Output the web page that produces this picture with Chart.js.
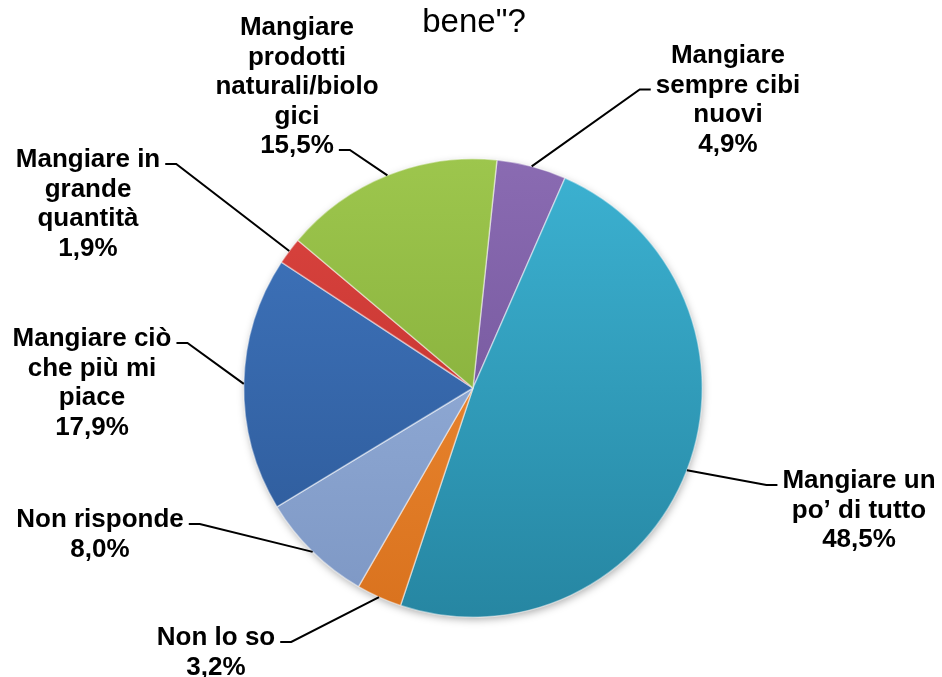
<!DOCTYPE html>
<html>
<head>
<meta charset="utf-8">
<script src="https://cdn.jsdelivr.net/npm/chart.js@4/dist/chart.umd.min.js"></script>
<style>
  html, body { margin: 0; padding: 0; background: #fff; }
  #chartContainer { width: 942px; height: 677px; }
</style>
</head>
<body>
<div id="chartContainer">
  <canvas id="chart" width="942" height="677"></canvas>
</div>
<script>
// data, clockwise from the top
const categories = [
  'Mangiare sempre cibi nuovi',
  'Mangiare un po’ di tutto',
  'Non lo so',
  'Non risponde',
  'Mangiare ciò che più mi piace',
  'Mangiare in grande quantità',
  'Mangiare prodotti naturali/biologici'
];
const values = [4.9, 48.5, 3.2, 8.0, 17.9, 1.9, 15.5];
const labelLines = [
  ['Mangiare', 'sempre cibi', 'nuovi'],
  ['Mangiare un', 'po’ di tutto'],
  ['Non lo so'],
  ['Non risponde'],
  ['Mangiare ciò', 'che più mi', 'piace'],
  ['Mangiare in', 'grande', 'quantità'],
  ['Mangiare', 'prodotti', 'naturali/biolo', 'gici']
];
const titleText = 'bene"?';

// slice colours (light top / dark bottom)
const topColors = ['#8a6bb2', '#3cb2d2', '#f4923a', '#9cb6e0', '#4076bf', '#dc4540', '#9dc64d'];
const bottomColors = ['#6a4d92', '#2686a2', '#d9721e', '#7d97c4', '#2c5896', '#b92c28', '#7ba332'];

// where each label sits: centre x, first baseline, line the leader joins, side of pie
const labelLayout = [
  { x: 728, y: 63, attach: 1, side: 'right' },
  { x: 859, y: 488, attach: 0, side: 'right' },
  { x: 216, y: 645, attach: 0, side: 'left' },
  { x: 100, y: 527, attach: 0, side: 'left' },
  { x: 92, y: 346, attach: 0, side: 'left' },
  { x: 88, y: 167, attach: 0, side: 'left' },
  { x: 297, y: 35, attach: 4, side: 'left' }
];

const labelFont = 'bold 26px "Liberation Sans", Arial, sans-serif';
const lineHeight = 29.5;

function fmt(v) {
  return v.toFixed(1).replace('.', ',') + '%';
}

function sliceFill(context) {
  const chart = context.chart;
  const area = chart.chartArea;
  const i = context.dataIndex;
  if (!area) return topColors[i];
  const g = chart.ctx.createLinearGradient(0, area.top, 0, area.bottom);
  g.addColorStop(0, topColors[i]);
  g.addColorStop(1, bottomColors[i]);
  return g;
}

const labelPlugin = {
  id: 'outsideLabels',
  beforeDatasetsDraw(chart) {
    // soft shadow under the pie
    const arc = chart.getDatasetMeta(0).data[0];
    if (!arc) return;
    const ctx = chart.ctx;
    ctx.save();
    ctx.shadowColor = 'rgba(0,0,0,0.35)';
    ctx.shadowBlur = 8;
    ctx.shadowOffsetX = 1;
    ctx.shadowOffsetY = 3;
    ctx.fillStyle = '#fff';
    ctx.beginPath();
    ctx.arc(arc.x, arc.y, arc.outerRadius - 1, 0, Math.PI * 2);
    ctx.fill();
    ctx.restore();
  },
  afterDraw(chart) {
    const ctx = chart.ctx;
    const meta = chart.getDatasetMeta(0);

    // title (only the second line is visible in the frame)
    ctx.save();
    ctx.font = '33px "Liberation Sans", Arial, sans-serif';
    ctx.fillStyle = '#000';
    ctx.textAlign = 'center';
    ctx.textBaseline = 'alphabetic';
    ctx.fillText(titleText, 474, 32);
    ctx.restore();

    ctx.save();
    ctx.font = labelFont;
    ctx.textAlign = 'center';
    ctx.textBaseline = 'alphabetic';
    meta.data.forEach((arc, i) => {
      const lay = labelLayout[i];
      const lines = labelLines[i].concat([fmt(values[i])]);

      // leader line: arc midpoint -> elbow -> text edge
      const mid = (arc.startAngle + arc.endAngle) / 2;
      const px = arc.x + Math.cos(mid) * arc.outerRadius;
      const py = arc.y + Math.sin(mid) * arc.outerRadius;
      const w = ctx.measureText(lines[lay.attach]).width;
      const ly = lay.y + lay.attach * lineHeight - 3;
      let edge, elbow;
      if (lay.side === 'right') {
        edge = lay.x - w / 2 - 5;
        elbow = edge - 11;
      } else {
        edge = lay.x + w / 2 + 5;
        elbow = edge + 11;
      }
      ctx.strokeStyle = '#000';
      ctx.lineWidth = 2;
      ctx.beginPath();
      ctx.moveTo(px, py);
      ctx.lineTo(elbow, ly);
      ctx.lineTo(edge, ly);
      ctx.stroke();

      ctx.fillStyle = '#000';
      lines.forEach((t, k) => {
        ctx.fillText(t, lay.x, lay.y + k * lineHeight);
      });
    });
    ctx.restore();
  }
};

const config = {
  type: 'pie',
  data: {
    labels: categories,
    datasets: [{
      data: values,
      backgroundColor: sliceFill,
      borderColor: 'rgba(255,255,255,0.45)',
      borderWidth: 1.5
    }]
  },
  options: {
    responsive: false,
    animation: false,
    rotation: 6,
    layout: {
      padding: { left: 243, right: 239, top: 158, bottom: 59 }
    },
    plugins: {
      legend: { display: false },
      title: { display: false },
      tooltip: { enabled: false }
    }
  },
  plugins: [labelPlugin]
};

const spiderChart = new Chart(document.getElementById('chart').getContext('2d'), config);
</script>
</body>
</html>
